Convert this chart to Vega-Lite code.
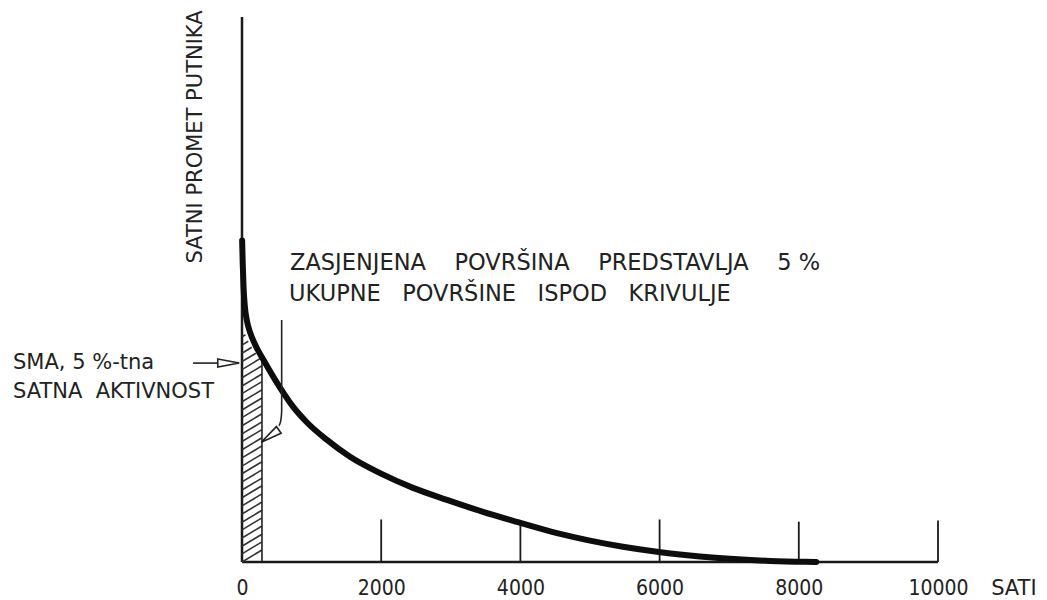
{
  "$schema": "https://vega.github.io/schema/vega-lite/v6.json",
  "width": 696,
  "height": 545,
  "autosize": {"type": "none"},
  "padding": {"left": 242, "top": 17, "right": 109, "bottom": 38},
  "background": "white",
  "config": {"view": {"stroke": null}, "font": "DejaVu Sans"},
  "datasets": {
    "frame": [
      {"x": 0, "y": 0, "x2": 0, "y2": 100},
      {"x": 0, "y": 0, "x2": 10000, "y2": 0}
    ],
    "ticks": [
      {"x": 2000, "y": 0, "y2": 7.8},
      {"x": 4000, "y": 0, "y2": 7.6},
      {"x": 6000, "y": 0, "y2": 7.8},
      {"x": 8000, "y": 0, "y2": 7.4},
      {"x": 10000, "y": 0, "y2": 7.6}
    ],
    "curve": [
      {"x": 2, "y": 59},
      {"x": 10, "y": 55},
      {"x": 22, "y": 50.5},
      {"x": 40, "y": 47},
      {"x": 70, "y": 44.3},
      {"x": 120, "y": 42.0},
      {"x": 200, "y": 39.6},
      {"x": 330, "y": 36.6},
      {"x": 546, "y": 32.0},
      {"x": 733, "y": 28.5},
      {"x": 934, "y": 25.6},
      {"x": 1221, "y": 22.4},
      {"x": 1552, "y": 19.3},
      {"x": 1983, "y": 16.3},
      {"x": 2457, "y": 13.6},
      {"x": 2945, "y": 11.4},
      {"x": 3463, "y": 9.2},
      {"x": 3966, "y": 7.3},
      {"x": 4526, "y": 5.3},
      {"x": 5000, "y": 3.93},
      {"x": 5474, "y": 2.8},
      {"x": 5963, "y": 1.88},
      {"x": 6293, "y": 1.38},
      {"x": 6580, "y": 1.02},
      {"x": 7011, "y": 0.58},
      {"x": 7586, "y": 0.2},
      {"x": 8100, "y": 0.03},
      {"x": 8250, "y": 0}
    ],
    "hatch": [
      {"x": 0, "y": 0.0, "x2": 287, "y2": 2.2},
      {"x": 0, "y": 1.5, "x2": 287, "y2": 3.7},
      {"x": 0, "y": 2.9, "x2": 287, "y2": 5.1},
      {"x": 0, "y": 4.4, "x2": 287, "y2": 6.6},
      {"x": 0, "y": 5.9, "x2": 287, "y2": 8.1},
      {"x": 0, "y": 7.3, "x2": 287, "y2": 9.5},
      {"x": 0, "y": 8.8, "x2": 287, "y2": 11.0},
      {"x": 0, "y": 10.3, "x2": 287, "y2": 12.5},
      {"x": 0, "y": 11.8, "x2": 287, "y2": 14.0},
      {"x": 0, "y": 13.2, "x2": 287, "y2": 15.4},
      {"x": 0, "y": 14.7, "x2": 287, "y2": 16.9},
      {"x": 0, "y": 16.2, "x2": 287, "y2": 18.4},
      {"x": 0, "y": 17.6, "x2": 287, "y2": 19.8},
      {"x": 0, "y": 19.1, "x2": 287, "y2": 21.3},
      {"x": 0, "y": 20.6, "x2": 287, "y2": 22.8},
      {"x": 0, "y": 22.1, "x2": 287, "y2": 24.3},
      {"x": 0, "y": 23.5, "x2": 287, "y2": 25.7},
      {"x": 0, "y": 25.0, "x2": 287, "y2": 27.2},
      {"x": 0, "y": 26.5, "x2": 287, "y2": 28.7},
      {"x": 0, "y": 27.9, "x2": 287, "y2": 30.1},
      {"x": 0, "y": 29.4, "x2": 287, "y2": 31.6},
      {"x": 0, "y": 30.9, "x2": 287, "y2": 33.1},
      {"x": 0, "y": 32.3, "x2": 287, "y2": 34.5},
      {"x": 0, "y": 33.8, "x2": 287, "y2": 36.0},
      {"x": 0, "y": 35.3, "x2": 270, "y2": 37.4},
      {"x": 0, "y": 36.8, "x2": 200, "y2": 38.3},
      {"x": 0, "y": 38.3, "x2": 140, "y2": 39.4},
      {"x": 0, "y": 39.8, "x2": 90, "y2": 40.5},
      {"x": 0, "y": 41.3, "x2": 50, "y2": 41.7}
    ],
    "hatchEdge": [
      {"x": 287, "y": 0, "y2": 38.0}
    ],
    "smaArrow": [
      {"x": -704, "y": 36.5, "x2": -359}
    ],
    "heads": [
      {"x": -194, "y": 36.5, "angle": 0},
      {"x": 402, "y": 23.1, "angle": 145}
    ],
    "leader": [
      {"x": 570, "y": 44.4, "k": 1},
      {"x": 570, "y": 27.6, "k": 2},
      {"x": 555, "y": 25.8, "k": 3},
      {"x": 530, "y": 25.0, "k": 4}
    ],
    "bigText": [
      {"x": 690, "y": 54.8, "label": "ZASJENJENA \u00a0\u00a0\u00a0POVRŠINA \u00a0\u00a0\u00a0PREDSTAVLJA \u00a0\u00a0\u00a05 %"},
      {"x": 676, "y": 49.2, "label": "UKUPNE \u00a0\u00a0POVRŠINE \u00a0\u00a0ISPOD \u00a0\u00a0KRIVULJE"}
    ],
    "smallText": [
      {"x": -3290, "y": 36.5, "label": "SMA, 5 %-tna"},
      {"x": -3290, "y": 31.2, "label": "SATNA \u00a0AKTIVNOST"}
    ],
    "ytitle": [
      {"x": -661, "y": 78, "label": "SATNI  PROMET  PUTNIKA"}
    ],
    "xtitle": [
      {"x": 11090, "y": -4.9, "label": "SATI"}
    ]
  },
  "encoding": {
    "x": {"field": "x", "type": "quantitative", "scale": {"domain": [0, 10000], "nice": false, "zero": false}},
    "y": {"field": "y", "type": "quantitative", "scale": {"domain": [0, 100], "nice": false, "zero": false}, "axis": null}
  },
  "layer": [
    {
      "data": {"name": "frame"},
      "mark": {"type": "rule", "strokeWidth": 2.5, "color": "#1a1a1a", "clip": false},
      "encoding": {
        "x": {"field": "x", "type": "quantitative", "axis": {"values": [0, 2000, 4000, 6000, 8000, 10000], "format": "d", "ticks": false, "domain": false, "grid": false, "title": null, "labelPadding": 15, "labelFontSize": 21, "labelColor": "#222", "labelFlush": false, "labelOverlap": false, "labelFont": "DejaVu Sans Condensed"}},
        "x2": {"field": "x2"},
        "y2": {"field": "y2"}
      }
    },
    {
      "data": {"name": "ticks"},
      "mark": {"type": "rule", "strokeWidth": 1.8, "color": "#1a1a1a"},
      "encoding": {"y2": {"field": "y2"}}
    },
    {
      "data": {"name": "hatch"},
      "mark": {"type": "rule", "strokeWidth": 1.6, "color": "#333"},
      "encoding": {"x2": {"field": "x2"}, "y2": {"field": "y2"}}
    },
    {
      "data": {"name": "hatchEdge"},
      "mark": {"type": "rule", "strokeWidth": 1.6, "color": "#222"},
      "encoding": {"y2": {"field": "y2"}}
    },
    {
      "data": {"name": "curve"},
      "mark": {"type": "line", "strokeWidth": 6, "color": "#0d0d0d", "interpolate": "monotone", "strokeCap": "round"},
      "encoding": {}
    },
    {
      "data": {"name": "smaArrow"},
      "mark": {"type": "rule", "strokeWidth": 1.6, "color": "#222", "clip": false},
      "encoding": {"x2": {"field": "x2"}}
    },
    {
      "data": {"name": "leader"},
      "mark": {"type": "line", "strokeWidth": 1.6, "color": "#222", "interpolate": "monotone"},
      "encoding": {"order": {"field": "k", "type": "quantitative"}}
    },
    {
      "data": {"name": "heads"},
      "mark": {"type": "point", "shape": "M -1 -0.38 L 1 0 L -1 0.38 Z", "size": 460, "filled": false, "fill": "white", "fillOpacity": 1, "stroke": "#222", "strokeWidth": 1.6, "clip": false},
      "encoding": {"angle": {"field": "angle", "type": "quantitative", "scale": null}}
    },
    {
      "data": {"name": "bigText"},
      "mark": {"type": "text", "align": "left", "baseline": "middle", "fontSize": 22.5, "color": "#222", "clip": false},
      "encoding": {"text": {"field": "label"}}
    },
    {
      "data": {"name": "smallText"},
      "mark": {"type": "text", "align": "left", "baseline": "middle", "fontSize": 21, "color": "#222", "clip": false},
      "encoding": {"text": {"field": "label"}}
    },
    {
      "data": {"name": "ytitle"},
      "mark": {"type": "text", "align": "center", "baseline": "middle", "angle": 270, "fontSize": 21, "color": "#222", "clip": false},
      "encoding": {"text": {"field": "label"}}
    },
    {
      "data": {"name": "xtitle"},
      "mark": {"type": "text", "align": "center", "baseline": "middle", "fontSize": 21, "color": "#222", "clip": false},
      "encoding": {"text": {"field": "label"}}
    }
  ]
}
